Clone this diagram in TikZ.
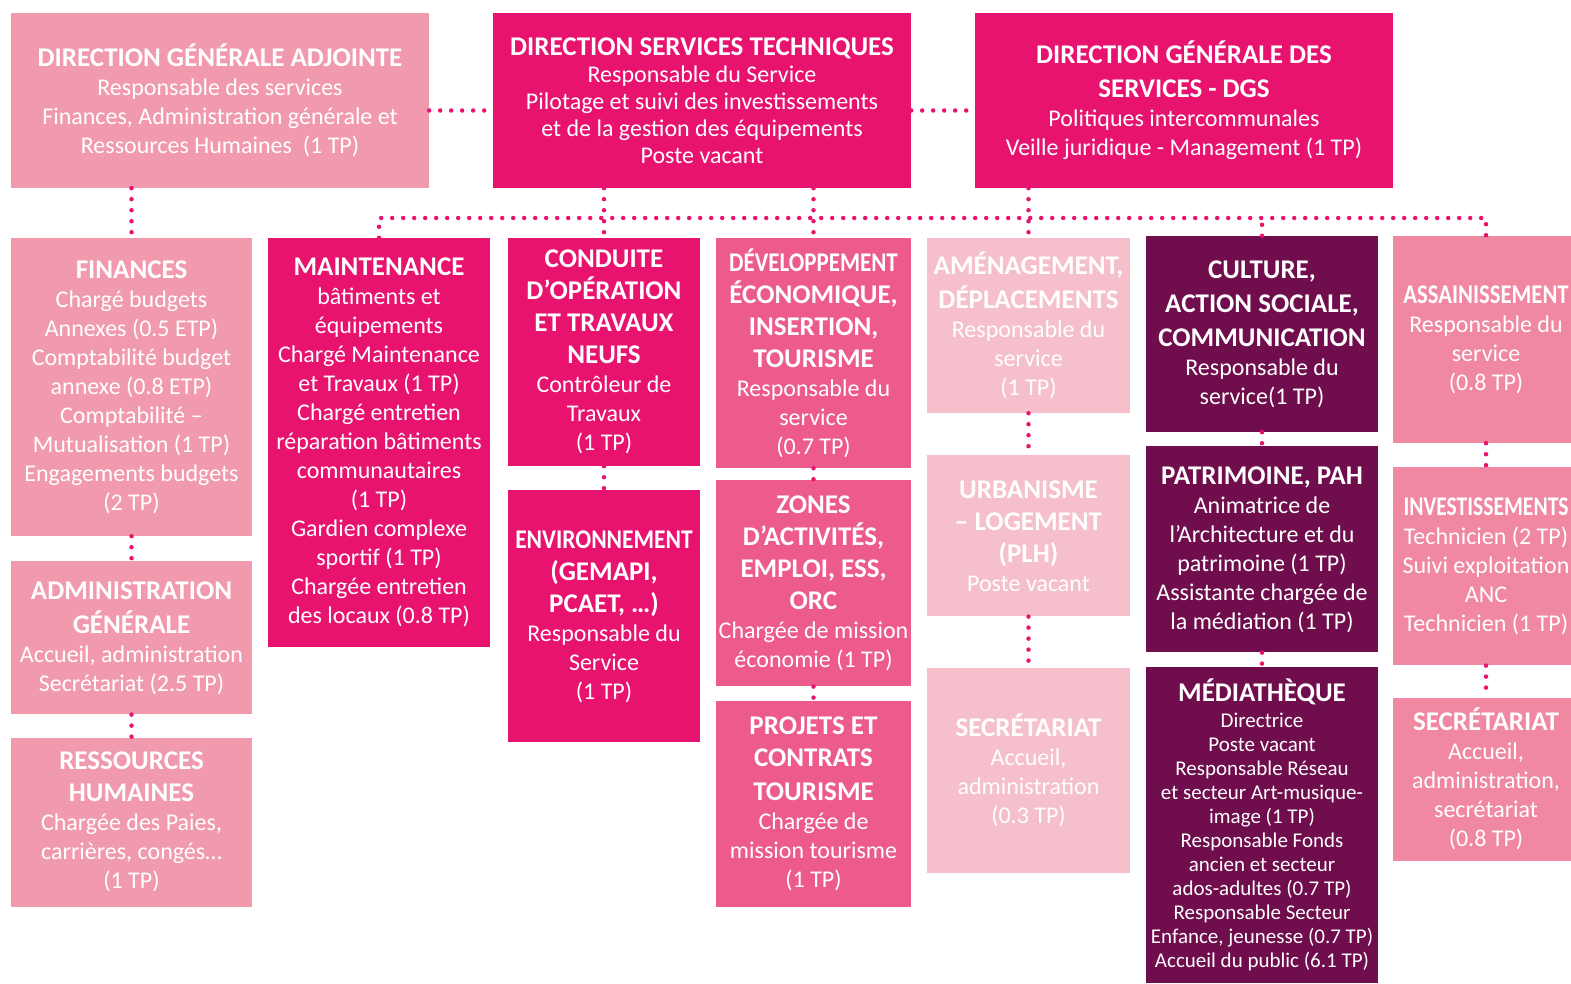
\documentclass[tikz,border=0pt]{standalone}
\usepackage{fontspec}
\setmainfont{Carlito}
\usepackage{graphicx}
\usetikzlibrary{positioning}

\definecolor{dotmag}{HTML}{E8126F}
\definecolor{magbox}{HTML}{E8126F}
\definecolor{rosebox}{HTML}{F19AAD}
\definecolor{midbox}{HTML}{EC5B8B}
\definecolor{palebox}{HTML}{F5C0CB}
\definecolor{plumbox}{HTML}{6F0D4D}
\definecolor{salmbox}{HTML}{F088A1}

\tikzstyle{unit} = [rectangle, inner sep=0pt, text=white, align=center,
  font=\fontsize{24}{29}\selectfont]
\tikzstyle{topbox} = [unit, minimum width=418pt, minimum height=175pt]
\tikzstyle{colA} = [unit, fill=rosebox, minimum width=241pt]
\tikzstyle{colB} = [unit, fill=magbox, minimum width=222pt]
\tikzstyle{colC} = [unit, fill=magbox, minimum width=192pt]
\tikzstyle{colD} = [unit, fill=midbox, minimum width=195pt]
\tikzstyle{colE} = [unit, fill=palebox, minimum width=203pt]
\tikzstyle{colF} = [unit, fill=plumbox, minimum width=232pt]
\tikzstyle{colG} = [unit, fill=salmbox, minimum width=186pt]
\tikzstyle{link} = [draw=dotmag, line width=4.5pt, line cap=round,
  dash pattern=on 0pt off 11pt]

\newcommand{\boxtitle}[1]{{\fontsize{27}{34}\selectfont\bfseries #1}}
\newcommand{\squeeze}[2]{\scalebox{#1}[1]{#2}}

\begin{document}
\begin{tikzpicture}[x=1pt, y=-1pt, node distance=25pt]

  \path [use as bounding box, fill=white] (0,0) rectangle (1571,984);

  %% Top row
  \node (dga) [topbox, fill=rosebox] at (220,100.5)
    {\boxtitle{DIRECTION GÉNÉRALE ADJOINTE}\\ Responsable des services\\
     Finances, Administration générale et\\ Ressources Humaines~~(1 TP)};
  \node (dst) [topbox, fill=magbox, font=\fontsize{24}{27}\selectfont] at (702,100.5)
    {\boxtitle{DIRECTION SERVICES TECHNIQUES}\\ Responsable du Service\\
     Pilotage et suivi des investissements\\ et de la gestion des équipements\\
     Poste vacant};
  \node (dgs) [topbox, fill=magbox] at (1184,100.5)
    {\boxtitle{DIRECTION GÉNÉRALE DES}\\[5pt] \boxtitle{SERVICES - DGS}\\
     Politiques intercommunales\\ Veille juridique - Management (1 TP)};

  %% Finances, administration, RH
  \node (fin) [colA, minimum height=298pt] at (131.5,387)
    {\boxtitle{FINANCES}\\ Chargé budgets\\ Annexes (0.5 ETP)\\ Comptabilité budget\\
     annexe (0.8 ETP)\\ Comptabilité –\\ Mutualisation (1 TP)\\ Engagements budgets\\ (2 TP)};
  \node (adm) [colA, minimum height=153pt, below=25pt of fin]
    {\boxtitle{ADMINISTRATION}\\[5pt] \boxtitle{GÉNÉRALE}\\ Accueil, administration\\
     Secrétariat (2.5 TP)};
  \node (rh) [colA, minimum height=169pt, below=23pt of adm]
    {\boxtitle{RESSOURCES}\\[3pt] \boxtitle{HUMAINES}\\ Chargée des Paies,\\
     carrières, congés…\\ (1 TP)};

  %% Maintenance
  \node (maint) [colB, minimum height=409pt] at (379,442.5)
    {\boxtitle{MAINTENANCE}\\ bâtiments et\\ équipements\\ Chargé Maintenance\\
     et Travaux (1 TP)\\ Chargé entretien\\ réparation bâtiments\\ communautaires\\
     (1 TP)\\ Gardien complexe\\ sportif (1 TP)\\ Chargée entretien\\ des locaux (0.8 TP)};

  %% Travaux, environnement
  \node (cond) [colC, minimum height=228pt] at (604,352)
    {\boxtitle{CONDUITE}\\[3pt] \boxtitle{D’OPÉRATION}\\[3pt] \boxtitle{ET TRAVAUX}\\[3pt]
     \boxtitle{NEUFS}\\ Contrôleur de\\ Travaux\\ (1 TP)};
  \node (env) [colC, minimum height=252pt, below=24pt of cond]
    {\boxtitle{\squeeze{0.87}{ENVIRONNEMENT}}\\[3pt] \boxtitle{(GEMAPI,}\\[3pt]
     \boxtitle{PCAET, …)}\\ Responsable du\\ Service\\ (1 TP)};

  %% Economie
  \node (dev) [colD, minimum height=230pt] at (813.5,353)
    {\boxtitle{\squeeze{0.85}{DÉVELOPPEMENT}}\\[3pt] \boxtitle{ÉCONOMIQUE,}\\[3pt]
     \boxtitle{INSERTION,}\\[3pt] \boxtitle{TOURISME}\\ Responsable du\\ service\\ (0.7 TP)};
  \node (zones) [colD, minimum height=206pt, below=12pt of dev]
    {\boxtitle{ZONES}\\[3pt] \boxtitle{D’ACTIVITÉS,}\\[3pt] \boxtitle{EMPLOI, ESS,}\\[3pt]
     \boxtitle{ORC}\\ Chargée de mission\\ économie (1 TP)};
  \node (proj) [colD, minimum height=206pt, below=14pt of zones]
    {\boxtitle{PROJETS ET}\\[3pt] \boxtitle{CONTRATS}\\[5pt] \boxtitle{TOURISME}\\
     Chargée de\\ mission tourisme\\ (1 TP)};

  %% Amenagement
  \node (amen) [colE, minimum height=175pt] at (1028.5,325.5)
    {\boxtitle{AMÉNAGEMENT,}\\[5pt] \boxtitle{DÉPLACEMENTS}\\ Responsable du\\ service\\ (1 TP)};
  \node (urb) [colE, minimum height=161pt, below=42pt of amen]
    {\boxtitle{URBANISME}\\[3pt] \boxtitle{– LOGEMENT}\\[3pt] \boxtitle{(PLH)}\\ Poste vacant};
  \node (secE) [colE, minimum height=205pt, below=51pt of urb]
    {\boxtitle{SECRÉTARIAT}\\ Accueil,\\ administration\\ (0.3 TP)};

  %% Culture
  \node (cult) [colF, minimum height=196pt] at (1262,334)
    {\boxtitle{CULTURE,}\\[5pt] \boxtitle{ACTION SOCIALE,}\\[5pt] \boxtitle{COMMUNICATION}\\
     Responsable du\\ service(1 TP)};
  \node (patr) [colF, minimum height=206pt, below=14pt of cult]
    {\boxtitle{PATRIMOINE, PAH}\\ Animatrice de\\ l’Architecture et du\\
     patrimoine (1 TP)\\ Assistante chargée de\\ la médiation (1 TP)};
  \node (med) [colF, minimum height=316pt, below=14pt of patr, font=\fontsize{21}{24}\selectfont]
    {\boxtitle{MÉDIATHÈQUE}\\[2pt] Directrice\\ Poste vacant\\ Responsable Réseau\\
     et secteur Art-musique-\\ image (1 TP)\\ Responsable Fonds\\ ancien et secteur\\
     ados-adultes (0.7 TP)\\ Responsable Secteur\\ Enfance, jeunesse (0.7 TP)\\
     Accueil du public (6.1 TP)};

  %% Assainissement
  \node (assain) [colG, minimum height=207pt] at (1486,339.5)
    {\boxtitle{\squeeze{0.84}{ASSAINISSEMENT}}\\ Responsable du\\ service\\ (0.8 TP)};
  \node (invest) [colG, minimum height=198pt, below=24pt of assain]
    {\boxtitle{\squeeze{0.8}{INVESTISSEMENTS}}\\ Technicien (2 TP)\\ Suivi exploitation\\
     ANC\\ Technicien (1 TP)};
  \node (secG) [colG, minimum height=163pt, below=32pt of invest]
    {\boxtitle{SECRÉTARIAT}\\ Accueil,\\ administration,\\ secrétariat\\ (0.8 TP)};

  %% Dotted links
  \coordinate (bus) at (0,218);

  \draw [link] ([yshift=-10pt]dga.east) -- ([yshift=-10pt]dst.west);
  \draw [link] ([yshift=-10pt]dst.east) -- ([yshift=-10pt]dgs.west);

  \draw [link] (dga.south -| fin.north) -- (fin.north);
  \draw [link] (fin) -- (adm);
  \draw [link] (adm) -- (rh);

  %% Horizontal line under the directions
  \draw [link] (maint.north) -- (maint.north |- bus) -- (assain.north |- bus) -- (assain.north);
  \draw [link] (dst.south -| cond.north) -- (cond.north);
  \draw [link] (dst.south -| dev.north) -- (dev.north);
  \draw [link] (dgs.south -| amen.north) -- (amen.north);
  \draw [link] (cult.north) -- (cult.north |- bus);

  \draw [link] (cond) -- (env);
  \draw [link] (dev) -- (zones);
  \draw [link] (zones) -- (proj);
  \draw [link] (amen) -- (urb);
  \draw [link] (urb) -- (secE);
  \draw [link] (cult) -- (patr);
  \draw [link] (patr) -- (med);
  \draw [link] (assain) -- (invest);
  \draw [link] (invest) -- (secG);

\end{tikzpicture}
\end{document}
